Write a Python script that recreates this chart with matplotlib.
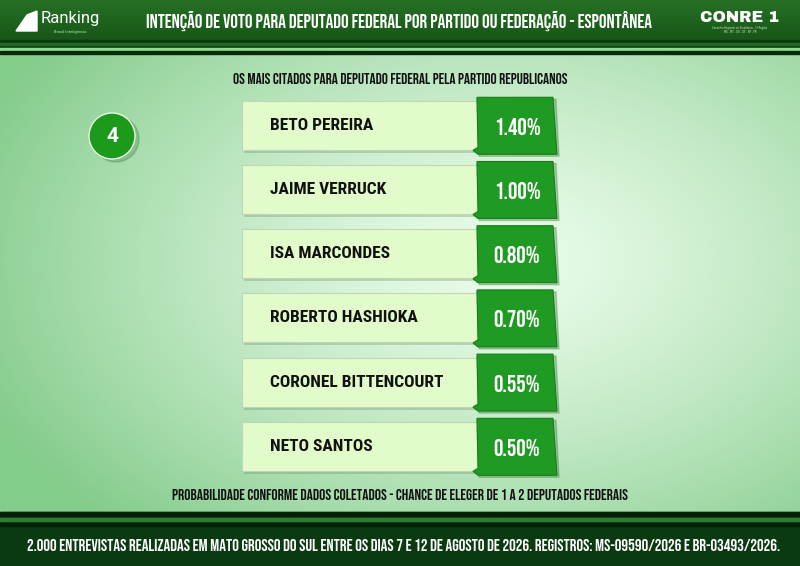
import numpy as np
import matplotlib.pyplot as plt
from matplotlib.patches import Rectangle, Polygon, Circle

names = ["BETO PEREIRA", "JAIME VERRUCK", "ISA MARCONDES", "ROBERTO HASHIOKA",
         "CORONEL BITTENCOURT", "NETO SANTOS"]
values = [1.40, 1.00, 0.80, 0.70, 0.55, 0.50]
rank_number = "4"
title = "INTENÇÃO DE VOTO PARA DEPUTADO FEDERAL POR PARTIDO OU FEDERAÇÃO - ESPONTÂNEA"
subtitle = "OS MAIS CITADOS PARA DEPUTADO FEDERAL PELA PARTIDO REPUBLICANOS"
note = "PROBABILIDADE CONFORME DADOS COLETADOS - CHANCE DE ELEGER DE 1 A 2 DEPUTADOS FEDERAIS"
footer = ("2.000 ENTREVISTAS REALIZADAS EM MATO GROSSO DO SUL ENTRE OS DIAS 7 E 12 DE AGOSTO "
          "DE 2026. REGISTROS: MS-09590/2026 E BR-03493/2026.")

bebas = ["Bebas Neue", "Oswald", "DejaVu Sans"]
rcond = ["Roboto Condensed", "DejaVu Sans"]

W, H = 800, 566
fig = plt.figure(figsize=(8, 5.66), dpi=100)
ax = fig.add_axes([0, 0, 1, 1])
ax.set_xlim(0, W)
ax.set_ylim(H, 0)
ax.axis("off")

# background vignette
yy, xx = np.mgrid[0:H, 0:W]
d = np.sqrt(((xx - 500) / 560.0) ** 2 + ((yy - 260) / 360.0) ** 2)
d = np.clip(d, 0, 1) ** 1.3
c_in = np.array([0.92, 0.99, 0.92])
c_out = np.array([0.52, 0.80, 0.55])
img = c_in[None, None, :] * (1 - d[..., None]) + c_out[None, None, :] * d[..., None]
ax.imshow(img, extent=(0, W, H, 0), zorder=0, aspect="auto")

# header
hg = np.linspace(0, 1, 40)[:, None, None]
top = np.array([0.15, 0.44, 0.15])
bot = np.array([0.09, 0.34, 0.09])
himg = top * (1 - hg) + bot * hg
ax.imshow(np.repeat(himg, 2, axis=1), extent=(0, W, 40, 0), zorder=1, aspect="auto")
ax.add_patch(Rectangle((0, 40), W, 8, color="#0c3a10", zorder=1))
ax.add_patch(Rectangle((0, 43), W, 2, color="#1f6b22", zorder=1))
ax.add_patch(Rectangle((0, 48), W, 3, color="#8fdc90", zorder=1))
ax.add_patch(Rectangle((0, 51), W, 3, color="#0a2a0c", zorder=1))
ax.text(399, 21, title, color="white", fontsize=13.8, family=bebas,
        ha="center", va="center", zorder=3)
ax.add_patch(Polygon([[16, 31], [27, 15], [37, 11], [37, 31]], color="white", zorder=3))
ax.text(41, 19, "Ranking", color="white", fontsize=12, family=["Roboto", "DejaVu Sans"],
        ha="left", va="center", zorder=3)
ax.text(70, 31.5, "Brasil Inteligência", color="#cfe8cf", fontsize=2.6,
        ha="center", va="center", zorder=3)
ax.text(740, 17, "CONRE 1", color="white", fontsize=11.5, fontweight="bold",
        family=["Archivo Black", "DejaVu Sans"], ha="center", va="center", zorder=3)
ax.text(740, 30, "Conselho Regional de Estatística - 1ª Região\nMS - MT - GO - DF - SP - PR",
        color="#d8eed8", fontsize=1.8, ha="center", va="center", linespacing=1.2, zorder=3)

# footer
ax.add_patch(Rectangle((0, 512), W, 54, color="#0b3a12", zorder=1))
ax.add_patch(Rectangle((0, 512), W, 4, color="#052006", zorder=1))
ax.add_patch(Rectangle((0, 518), W, 3, color="#2e7d34", zorder=1))
ax.add_patch(Rectangle((0, 523), W, 3, color="#052006", zorder=1))
ax.text(404, 545, footer, color="white", fontsize=12.1, family=bebas,
        ha="center", va="center", zorder=3)

ax.text(400, 79, subtitle, color="#111111", fontsize=11, family=bebas,
        ha="center", va="center", zorder=3)
ax.text(400, 494, note, color="#111111", fontsize=11.2, family=bebas,
        ha="center", va="center", zorder=3)

# rank circle
ax.add_patch(Circle((116, 139), 23, color="#3d7a3d", alpha=0.3, zorder=2))
ax.add_patch(Circle((112, 136), 23, facecolor="#1c9a1c", edgecolor="#eaf8ea",
                    linewidth=1.0, zorder=3))
ax.text(112, 137, rank_number, color="white", fontsize=15, fontweight="bold",
        family=["Roboto", "DejaVu Sans"], ha="center", va="center", zorder=4)

# rows
y0, pitch = 125.3, 64.2
x_left, x_mid, x_right = 242, 482, 557
ys = [y0 + i * pitch for i in range(len(names))]
ax.barh([y + 3 for y in ys], x_mid - x_left, left=x_left + 2, height=49,
        color="#5f875f", alpha=0.3, zorder=2)
ax.barh(ys, x_mid - x_left, left=x_left, height=49, color="#e2fbcb",
        edgecolor="#c2d6b6", linewidth=0.8, zorder=3)
for y, n, v in zip(ys, names, values):
    ax.add_patch(Polygon([[x_mid - 5, y - 26], [x_right - 1, y - 26],
                          [x_right + 2, y + 31], [x_mid - 3, y + 31]],
                         closed=True, color="#2f6d2f", alpha=0.3, zorder=3))
    ax.add_patch(Polygon([[x_mid - 5, y - 28], [x_right - 4, y - 28],
                          [x_right, y + 29], [x_mid - 4, y + 29], [x_mid - 9, y + 25],
                          [x_mid - 4, y + 22]],
                         closed=True, facecolor="#1f9a22", edgecolor="#167e18",
                         linewidth=0.8, zorder=4))
    ax.text(270, y, n, color="#111111", fontsize=12.5, fontweight=900,
            family=rcond, ha="left", va="center", zorder=5)
    ax.text(517, y + 1, f"{v:.2f}%", color="white", fontsize=17,
            family=bebas, ha="center", va="center", zorder=5)

fig.savefig("out.png", dpi=100)
